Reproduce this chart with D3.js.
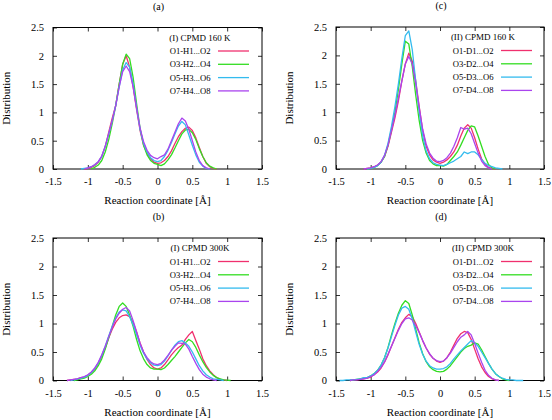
<!DOCTYPE html>
<html><head><meta charset="utf-8">
<script src="https://cdn.jsdelivr.net/npm/d3@7"></script>
<style>body{margin:0;background:#fff}svg text{font-family:"Liberation Serif","DejaVu Serif",serif}</style>
</head><body>
<svg id="c" width="552" height="420"></svg>
<script>
const seriesColors = ["#f0306e", "#33dd22", "#33bbee", "#aa44ee"];
const xTicks = [-1.5, -1, -0.5, 0, 0.5, 1, 1.5];
const yTicks = [0, 0.5, 1, 1.5, 2, 2.5];

// Panel (a)
const aX = [-1.10,-1.05,-1.00,-0.95,-0.90,-0.85,-0.80,-0.75,-0.70,-0.65,-0.60,-0.55,-0.50,-0.45,-0.40,-0.35,-0.30,-0.25,-0.20,-0.15,-0.10,-0.05,0.00,0.05,0.10,0.15,0.20,0.25,0.30,0.35,0.40,0.45,0.50,0.55,0.60,0.65,0.70,0.75,0.80,0.85];
const aNames = ["O1-H1...O2","O3-H2...O4","O5-H3...O6","O7-H4...O8"];
const aRed = [null,0,0.01,0.03,0.06,0.12,0.22,0.40,0.65,0.90,1.12,1.50,1.85,2.00,1.80,1.45,1.05,0.68,0.42,0.28,0.18,0.12,0.10,0.11,0.15,0.22,0.32,0.45,0.57,0.66,0.72,0.74,0.68,0.55,0.38,0.22,0.10,0.04,0.01,0];
const aGreen = [null,null,null,0,0.03,0.07,0.15,0.30,0.52,0.80,1.12,1.50,1.85,2.03,1.95,1.62,1.15,0.72,0.42,0.25,0.15,0.10,0.08,0.06,0.09,0.16,0.25,0.37,0.50,0.62,0.69,0.70,0.64,0.52,0.36,0.22,0.11,0.05,0.02,0];
const aCyan = [0,0.01,0.02,0.04,0.07,0.13,0.22,0.40,0.62,0.85,1.12,1.45,1.75,1.88,1.80,1.50,1.08,0.70,0.45,0.30,0.20,0.15,0.13,0.15,0.22,0.33,0.47,0.62,0.76,0.84,0.78,0.60,0.42,0.25,0.12,0.05,0.01,0,null,null];
const aPurple = [null,0,0.02,0.04,0.08,0.13,0.23,0.40,0.62,0.85,1.12,1.45,1.72,1.82,1.72,1.45,1.08,0.72,0.48,0.33,0.24,0.20,0.18,0.22,0.25,0.35,0.50,0.65,0.80,0.90,0.85,0.70,0.50,0.30,0.15,0.06,0.02,0,null,null];

// Panel (c)
const cX = [-1.10,-1.05,-1.00,-0.95,-0.90,-0.85,-0.80,-0.75,-0.70,-0.65,-0.60,-0.55,-0.50,-0.45,-0.40,-0.35,-0.30,-0.25,-0.20,-0.15,-0.10,-0.05,0.00,0.05,0.10,0.15,0.20,0.25,0.30,0.35,0.40,0.45,0.50,0.55,0.60,0.65,0.70,0.75,0.80,0.85,0.90];
const cNames = ["O1-D1...O2","O3-D2...O4","O5-D3...O6","O7-D4...O8"];
const cRed = [0,0.01,0.02,0.04,0.07,0.12,0.22,0.40,0.65,0.90,1.20,1.55,1.85,2.04,1.90,1.55,1.10,0.68,0.40,0.25,0.16,0.12,0.10,0.12,0.16,0.22,0.30,0.42,0.58,0.72,0.78,0.72,0.55,0.35,0.18,0.08,0.03,0.01,0,null,null];
const cGreen = [null,0,0.01,0.03,0.06,0.12,0.22,0.42,0.70,1.00,1.40,1.85,2.25,2.20,1.80,1.30,0.85,0.50,0.28,0.15,0.09,0.06,0.06,0.05,0.08,0.15,0.22,0.30,0.42,0.55,0.68,0.76,0.74,0.58,0.40,0.22,0.08,0.02,0,null,null];
const cCyan = [null,0,0.01,0.03,0.06,0.12,0.24,0.45,0.75,1.10,1.50,1.95,2.35,2.43,2.10,1.55,1.00,0.58,0.32,0.18,0.11,0.08,0.07,0.06,0.08,0.11,0.14,0.18,0.22,0.30,0.27,0.30,0.30,0.25,0.17,0.10,0.06,0.04,0.02,0.01,0];
const cPurple = [0,0.01,0.02,0.04,0.07,0.13,0.24,0.42,0.68,0.95,1.25,1.55,1.85,1.98,1.85,1.50,1.08,0.70,0.44,0.28,0.19,0.14,0.13,0.15,0.20,0.28,0.40,0.55,0.73,0.70,0.72,0.62,0.45,0.28,0.14,0.06,0.02,0,null,null,null];

// Panel (b)
const bX = [-1.30,-1.25,-1.20,-1.15,-1.10,-1.05,-1.00,-0.95,-0.90,-0.85,-0.80,-0.75,-0.70,-0.65,-0.60,-0.55,-0.50,-0.45,-0.40,-0.35,-0.30,-0.25,-0.20,-0.15,-0.10,-0.05,0.00,0.05,0.10,0.15,0.20,0.25,0.30,0.35,0.40,0.45,0.50,0.55,0.60,0.65,0.70,0.75,0.80,0.85,0.90,0.95,1.00,1.05];
const bRed = [0,0.01,0.02,0.03,0.05,0.06,0.09,0.14,0.20,0.30,0.42,0.57,0.75,0.90,1.02,1.10,1.14,1.15,1.12,1.02,0.85,0.66,0.50,0.37,0.28,0.22,0.20,0.22,0.28,0.36,0.45,0.52,0.58,0.62,0.72,0.80,0.86,0.70,0.55,0.38,0.26,0.17,0.10,0.05,0.02,0.01,0,null];
const bGreen = [null,null,0,0.01,0.03,0.04,0.07,0.11,0.17,0.26,0.38,0.55,0.75,0.95,1.15,1.30,1.36,1.30,1.15,0.95,0.72,0.52,0.38,0.28,0.22,0.20,0.20,0.19,0.22,0.28,0.35,0.42,0.50,0.58,0.66,0.72,0.68,0.58,0.45,0.33,0.23,0.15,0.09,0.05,0.03,0.01,0.005,0];
const bCyan = [null,0,0.01,0.03,0.04,0.06,0.09,0.14,0.21,0.31,0.44,0.60,0.78,0.95,1.10,1.20,1.24,1.22,1.12,0.98,0.80,0.62,0.48,0.38,0.31,0.27,0.26,0.28,0.34,0.43,0.53,0.62,0.68,0.70,0.66,0.60,0.50,0.38,0.26,0.17,0.10,0.06,0.03,0.02,0.01,0,null,null];
const bPurple = [0,0.01,0.02,0.03,0.05,0.07,0.10,0.15,0.22,0.32,0.45,0.60,0.77,0.93,1.08,1.18,1.25,1.28,1.22,1.05,0.85,0.65,0.50,0.40,0.33,0.29,0.28,0.30,0.36,0.44,0.53,0.60,0.66,0.65,0.64,0.55,0.42,0.30,0.19,0.11,0.06,0.03,0.01,0,null,null,null,null];

// Panel (d)
const dX = [-1.45,-1.40,-1.35,-1.30,-1.25,-1.20,-1.15,-1.10,-1.05,-1.00,-0.95,-0.90,-0.85,-0.80,-0.75,-0.70,-0.65,-0.60,-0.55,-0.50,-0.45,-0.40,-0.35,-0.30,-0.25,-0.20,-0.15,-0.10,-0.05,0.00,0.05,0.10,0.15,0.20,0.25,0.30,0.35,0.40,0.45,0.50,0.55,0.60,0.65,0.70,0.75,0.80,0.85,0.90,0.95,1.00,1.05,1.10,1.15,1.20];
const dRed = [null,null,null,0,0.01,0.01,0.02,0.03,0.04,0.06,0.10,0.15,0.22,0.32,0.45,0.60,0.75,0.90,1.02,1.10,1.16,1.12,1.00,0.85,0.70,0.57,0.46,0.39,0.34,0.32,0.34,0.40,0.50,0.62,0.74,0.82,0.86,0.84,0.72,0.55,0.38,0.24,0.14,0.07,0.03,0.01,0,null,null,null,null,null,null,null];
const dGreen = [null,null,null,0,0.01,0.02,0.03,0.04,0.05,0.08,0.12,0.18,0.27,0.40,0.58,0.80,1.00,1.18,1.32,1.40,1.35,1.15,0.90,0.66,0.47,0.33,0.24,0.19,0.16,0.15,0.16,0.20,0.26,0.34,0.42,0.50,0.56,0.60,0.62,0.66,0.64,0.54,0.42,0.30,0.20,0.12,0.07,0.03,0.01,0,null,null,null,null];
const dCyan = [0,0,0.01,0.01,0.01,0.02,0.03,0.05,0.05,0.08,0.12,0.18,0.27,0.40,0.57,0.77,0.97,1.15,1.27,1.30,1.25,1.08,0.85,0.63,0.46,0.34,0.26,0.22,0.20,0.20,0.21,0.24,0.30,0.38,0.45,0.52,0.58,0.64,0.70,0.66,0.60,0.50,0.40,0.30,0.20,0.12,0.07,0.04,0.02,0.01,0.01,0,0,0];
const dPurple = [null,null,null,0,0.01,0.01,0.02,0.03,0.04,0.07,0.10,0.16,0.23,0.33,0.46,0.60,0.74,0.88,1.00,1.08,1.10,1.06,0.96,0.84,0.70,0.57,0.47,0.39,0.35,0.33,0.34,0.40,0.48,0.58,0.68,0.76,0.80,0.86,0.80,0.65,0.48,0.32,0.18,0.09,0.04,0.01,0,null,null,null,null,null,null,null];

const panels = [
  {tag:"(a)", legendTitle:"(I) CPMD 160 K", names:aNames, xs:aX, series:[aRed,aGreen,aCyan,aPurple], left:53, top:27.5, w:209, h:141.5},
  {tag:"(c)", legendTitle:"(II) CPMD 160 K", names:cNames, xs:cX, series:[cRed,cGreen,cCyan,cPurple], left:336, top:27, w:208, h:142},
  {tag:"(b)", legendTitle:"(I) CPMD 300K", names:aNames, xs:bX, series:[bRed,bGreen,bCyan,bPurple], left:53, top:238, w:209, h:142.5},
  {tag:"(d)", legendTitle:"(II) CPMD 300K", names:cNames, xs:dX, series:[dRed,dGreen,dCyan,dPurple], left:336, top:238, w:208, h:142.5}
];

const svg = d3.select("#c");
panels.forEach(p => {
  const g = svg.append("g").attr("transform", `translate(${p.left},${p.top})`);
  const x = d3.scaleLinear().domain([-1.5, 1.5]).range([0, p.w]);
  const y = d3.scaleLinear().domain([0, 2.5]).range([p.h, 0]);
  const fmt = d => String(d);
  const ax = [
    g.append("g").attr("transform", `translate(0,${p.h})`).call(d3.axisBottom(x).tickValues(xTicks).tickSize(-4).tickPadding(9).tickFormat(fmt)),
    g.append("g").call(d3.axisTop(x).tickValues(xTicks).tickSize(-4).tickFormat("")),
    g.append("g").call(d3.axisLeft(y).tickValues(yTicks).tickSize(-4).tickPadding(9).tickFormat(fmt)),
    g.append("g").attr("transform", `translate(${p.w},0)`).call(d3.axisRight(y).tickValues(yTicks).tickSize(-4).tickFormat(""))
  ];
  ax.forEach(a => {
    a.select(".domain").remove();
    a.selectAll("line").attr("stroke", "#000").attr("stroke-width", 0.8);
    a.selectAll("text").attr("font-size", 10.5).attr("fill", "#000").style("font-family", "'Liberation Serif',serif");
  });
  // frame
  g.append("rect").attr("width", p.w).attr("height", p.h).attr("fill", "none").attr("stroke", "#000").attr("stroke-width", 1);

  const line = d3.line().defined(d => d[1] != null).x(d => x(d[0])).y(d => y(d[1]));
  p.series.forEach((s, i) => {
    g.append("path").datum(p.xs.map((xv, k) => [xv, s[k]]))
      .attr("d", line).attr("fill", "none").attr("stroke", seriesColors[i])
      .attr("stroke-width", 1.3).attr("stroke-linejoin", "round");
  });

  // legend
  g.append("text").attr("x", 147).attr("y", 13).attr("text-anchor", "middle").attr("font-size", 9).text(p.legendTitle);
  p.names.forEach((n, i) => {
    const yy = 23.5 + i * 13.3;
    g.append("text").attr("x", 157.5).attr("y", yy + 3).attr("text-anchor", "end").attr("font-size", 8.6).text(n);
    g.append("line").attr("x1", 165).attr("x2", 196).attr("y1", yy).attr("y2", yy)
      .attr("stroke", seriesColors[i]).attr("stroke-width", 1.3);
  });

  // labels
  g.append("text").attr("x", p.w / 2).attr("y", p.h + 35).attr("text-anchor", "middle").attr("font-size", 11).text("Reaction coordinate [Å]");
  g.append("text").attr("transform", `translate(-43,${p.h / 2}) rotate(-90)`).attr("text-anchor", "middle").attr("font-size", 11).text("Distribution");
  g.append("text").attr("x", p.w / 2 + 1).attr("y", -18).attr("text-anchor", "middle").attr("font-size", 10).text(p.tag);
});
</script>
</body></html>
